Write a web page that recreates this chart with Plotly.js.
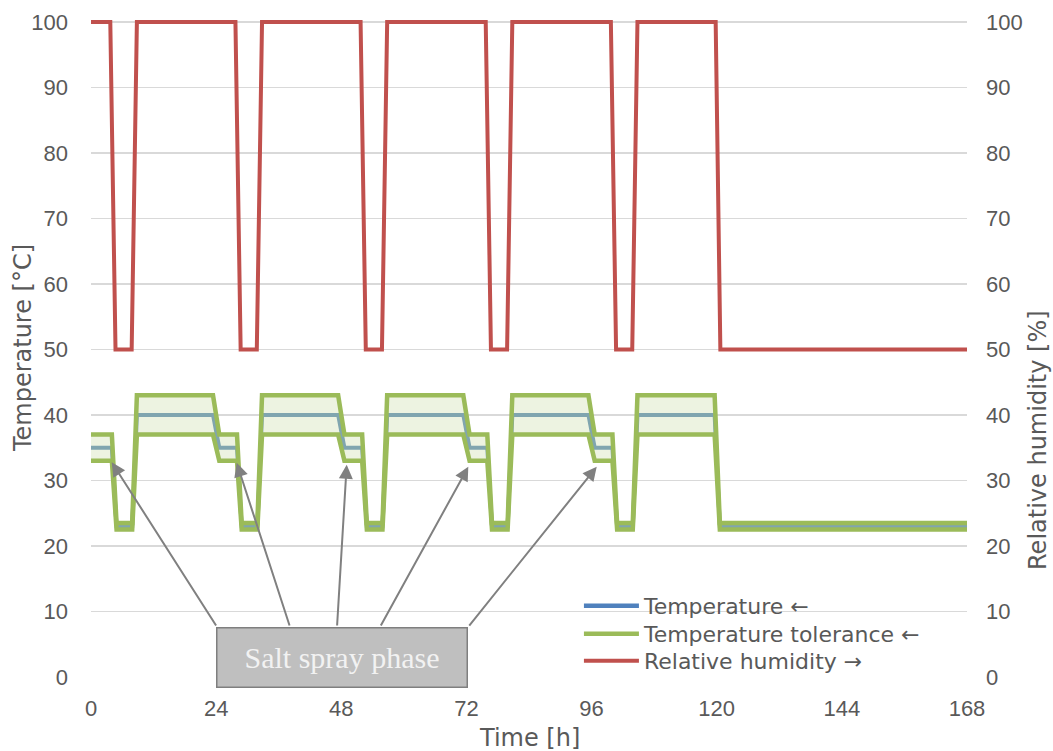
<!DOCTYPE html>
<html>
<head>
<meta charset="utf-8">
<script src="https://cdn.plot.ly/plotly-3.0.1.min.js"></script>
<style>html,body{margin:0;padding:0;background:#fff;}#chart{width:1053px;height:751px;}</style>
</head>
<body>
<div id="chart"></div>
<script>
// Time axis [h] for the temperature programme
const tempTime = [0, 4.0, 4.9, 7.9, 8.8, 23.4, 24.6, 28.0, 28.9, 31.9, 32.8, 47.4, 48.6, 52.0, 52.9, 55.9, 56.8, 71.4, 72.6, 76.0, 76.9, 79.9, 80.8, 95.4, 96.6, 100.0, 100.9, 103.9, 104.8, 119.6, 120.6, 168];
// Temperature set point [°C]
const temperature = [35, 35, 23, 23, 40, 40, 35, 35, 23, 23, 40, 40, 35, 35, 23, 23, 40, 40, 35, 35, 23, 23, 40, 40, 35, 35, 23, 23, 40, 40, 23, 23];
// Temperature tolerance band [°C]
const tolUpper = [37, 37, 23.5, 23.5, 43, 43, 37, 37, 23.5, 23.5, 43, 43, 37, 37, 23.5, 23.5, 43, 43, 37, 37, 23.5, 23.5, 43, 43, 37, 37, 23.5, 23.5, 43, 43, 23.5, 23.5];
const tolLower = [33, 33, 22.5, 22.5, 37, 37, 33, 33, 22.5, 22.5, 37, 37, 33, 33, 22.5, 22.5, 37, 37, 33, 33, 22.5, 22.5, 37, 37, 33, 33, 22.5, 22.5, 37, 37, 22.5, 22.5];
// Relative humidity programme [%]
const rhTime = [0, 3.7, 4.7, 7.8, 8.8, 27.7, 28.7, 31.8, 32.8, 51.7, 52.7, 55.8, 56.8, 75.7, 76.7, 79.8, 80.8, 99.7, 100.7, 103.8, 104.8, 119.8, 120.7, 168];
const humidity = [100, 100, 50, 50, 100, 100, 50, 50, 100, 100, 50, 50, 100, 100, 50, 50, 100, 100, 50, 50, 100, 100, 50, 50];
// Ticks
const xTicks = [0, 24, 48, 72, 96, 120, 144, 168];
const yTicks = [0, 10, 20, 30, 40, 50, 60, 70, 80, 90, 100];
// Legend labels
const legendNames = ['Temperature ←', 'Temperature tolerance ←', 'Relative humidity →'];
// Salt spray arrows: tip (x,y) and tail (ax,ay) in data units
const arrowTipX = [3.97, 27.94, 49.04, 72.36, 96.99];
const arrowTipY = [32.8, 32.7, 32.4, 32.1, 32.1];
const arrowTailX = [24.17, 38.17, 47.18, 55.43, 72.31];
const arrowTailY = [7.63, 7.63, 7.63, 7.63, 7.63];

const TICKFONT = 'Liberation Sans, Arial, sans-serif';
const FONT = 'DejaVu Sans, sans-serif';
const GREY = '#595959';
const BLUE = '#4f81bd';
const GREEN = '#9bbb59';
const RED = '#c0504d';

const traces = [
  {x: tempTime, y: temperature, type: 'scatter', mode: 'lines', yaxis: 'y',
   line: {color: '#7aa0c2', width: 4}, showlegend: false, hoverinfo: 'skip'},
  {x: tempTime, y: tolLower, type: 'scatter', mode: 'lines', yaxis: 'y',
   line: {color: GREEN, width: 4.5}, showlegend: false},
  {x: tempTime, y: tolUpper, type: 'scatter', mode: 'lines', yaxis: 'y', fill: 'tonexty',
   fillcolor: 'rgba(155,187,89,0.18)', line: {color: GREEN, width: 4.5}, showlegend: false},
  // legend entries
  {x: [null], y: [null], type: 'scatter', mode: 'lines', line: {color: BLUE, width: 4.5},
   name: legendNames[0], legend: 'legend'},
  {x: [null], y: [null], type: 'scatter', mode: 'lines', line: {color: GREEN, width: 4.5},
   name: legendNames[1], legend: 'legend2'},
  {x: rhTime, y: humidity, type: 'scatter', mode: 'lines', yaxis: 'y2',
   line: {color: RED, width: 4}, name: legendNames[2], legend: 'legend3'}
];

const annotations = [];
for (let i = 0; i < arrowTipX.length; i++) {
  annotations.push({
    x: arrowTipX[i], y: arrowTipY[i], xref: 'x', yref: 'y',
    ax: arrowTailX[i], ay: arrowTailY[i], axref: 'x', ayref: 'y',
    text: '', showarrow: true, arrowhead: 2, arrowsize: 1.4, arrowwidth: 2,
    arrowcolor: '#808080', standoff: 0, startstandoff: 0
  });
}
annotations.push(
  {xref: 'paper', yref: 'paper', x: 0.2871, y: 0.0303, xanchor: 'center', yanchor: 'middle',
   text: 'Salt spray phase', showarrow: false, bgcolor: '#bfbfbf', bordercolor: '#7f7f7f',
   borderwidth: 1.5, borderpad: 0, width: 249, height: 58,
   font: {family: 'Liberation Serif, Times New Roman, serif', size: 30, color: '#f2f2f2'}},
  {xref: 'paper', yref: 'paper', x: 0.501, y: -0.092, xanchor: 'center', yanchor: 'middle',
   text: 'Time [h]', showarrow: false, font: {family: FONT, size: 24, color: GREY}},
  {xref: 'paper', yref: 'paper', x: -0.0776, y: 0.4992, xanchor: 'center', yanchor: 'middle',
   text: 'Temperature [°C]', textangle: -90, showarrow: false, font: {family: FONT, size: 24, color: GREY}},
  {xref: 'paper', yref: 'paper', x: 1.081, y: 0.3596, xanchor: 'center', yanchor: 'middle',
   text: 'Relative humidity [%]', textangle: -90, showarrow: false, font: {family: FONT, size: 24, color: GREY}}
);

function legendAt(y) {
  return {x: 0.557, y: y, xanchor: 'left', yanchor: 'middle', bgcolor: 'rgba(0,0,0,0)',
          itemwidth: 55, font: {family: FONT, size: 22, color: GREY}};
}

const layout = {
  width: 1053, height: 751,
  margin: {l: 91, r: 86, t: 18, b: 74},
  paper_bgcolor: '#ffffff', plot_bgcolor: '#ffffff',
  font: {family: FONT, color: GREY, size: 21},
  showlegend: true,
  legend: legendAt(0.1077),
  legend2: legendAt(0.0652),
  legend3: legendAt(0.0243),
  xaxis: {range: [0, 168], tickvals: xTicks, ticktext: xTicks.map(String), showgrid: false,
          zeroline: false, showline: false, ticks: '', ticklabelstandoff: 16,
          tickfont: {family: TICKFONT, size: 22, color: GREY}},
  yaxis: {range: [0, 100.6], tickvals: yTicks, showgrid: true, gridcolor: '#d9d9d9', gridwidth: 1.5,
          zeroline: false, showline: false, ticks: '', ticklabelstandoff: 22,
          tickfont: {family: TICKFONT, size: 22, color: GREY}},
  yaxis2: {range: [0, 100.6], tickvals: yTicks, overlaying: 'y', side: 'right', showgrid: false,
           zeroline: false, showline: false, ticks: '', ticklabelstandoff: 18,
           tickfont: {family: TICKFONT, size: 22, color: GREY}},
  annotations: annotations
};

Plotly.newPlot('chart', traces, layout, {staticPlot: true, displayModeBar: false});
</script>
</body>
</html>
